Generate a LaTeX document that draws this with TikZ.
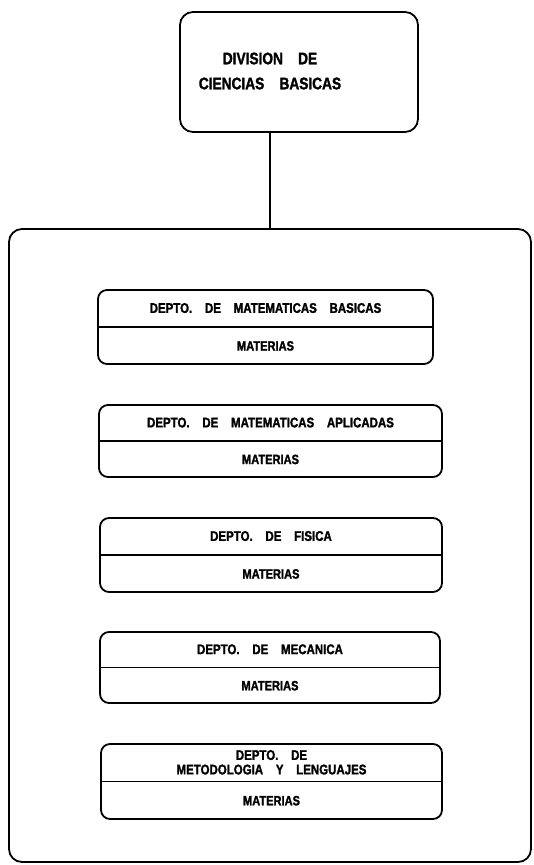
\documentclass[tikz,border=0pt]{standalone}
\usepackage{fontspec}
\setmainfont{Liberation Sans}[FakeStretch=0.82,WordSpace=4,
  BoldFeatures={FakeBold=1.6}]
\usepackage{tikz}
\usetikzlibrary{positioning,calc}
\colorlet{penColor}{black}
\tikzset{
  unitbox/.style={draw=penColor,line width=1.8pt,rounded corners=13pt},
  deptbox/.style={draw=penColor,line width=1.8pt,rounded corners=9pt},
  divider/.style={draw=penColor,line width=1.6pt},
  boxtext/.style={inner sep=0pt,align=center,
    font=\bfseries\fontsize{14}{14}\selectfont},
  mattext/.style={boxtext,font=\bfseries\fontsize{13.5}{13.5}\selectfont}
}

\begin{document}
\begin{tikzpicture}[x=1pt,y=-1pt]
    \useasboundingbox (0,0) rectangle (533,865);

    % division
    \node[unitbox,minimum width=238pt,minimum height=120pt] (division) at (299,72) {};
    \node[boxtext,font=\bfseries\fontsize{16.7}{25}\selectfont] (divisiontext) at (270,71)
      {DIVISION DE\\CIENCIAS BASICAS};

    % departamentos
    \node[unitbox,minimum width=522pt,minimum height=633pt] (frame) at (270,545.5) {};
    \coordinate (link) at (division.south -| frame.north);
    \draw[divider,line width=1.8pt] (link) -- (frame.north);

    \node[deptbox,minimum width=335pt,minimum height=74pt] (basicas) at (265.5,327) {};
    \draw[divider] (basicas.west) -- (basicas.east);
    \node[boxtext] (basicashead) at ($(basicas.north)!.25!(basicas.south)$)
      {DEPTO. DE MATEMATICAS BASICAS};
    \node[mattext] (basicasmat) at ($(basicas.north)!.75!(basicas.south)$) {MATERIAS};

    \node[deptbox,minimum width=343pt,minimum height=72pt] (aplicadas) at (270.5,441) {};
    \draw[divider] (aplicadas.west) -- (aplicadas.east);
    \node[boxtext] (aplicadashead) at ($(aplicadas.north)!.25!(aplicadas.south)$)
      {DEPTO. DE MATEMATICAS APLICADAS};
    \node[mattext] (aplicadasmat) at ($(aplicadas.north)!.75!(aplicadas.south)$) {MATERIAS};

    \node[deptbox,minimum width=342pt,minimum height=74pt] (fisica) at (271,555) {};
    \draw[divider] (fisica.west) -- (fisica.east);
    \node[boxtext] (fisicahead) at ($(fisica.north)!.25!(fisica.south)$)
      {DEPTO. DE FISICA};
    \node[mattext] (fisicamat) at ($(fisica.north)!.75!(fisica.south)$) {MATERIAS};

    \node[deptbox,minimum width=340pt,minimum height=71pt] (mecanica) at (270,667.5) {};
    \draw[divider] (mecanica.west) -- (mecanica.east);
    \node[boxtext] (mecanicahead) at ($(mecanica.north)!.25!(mecanica.south)$)
      {DEPTO. DE MECANICA};
    \node[mattext] (mecanicamat) at ($(mecanica.north)!.75!(mecanica.south)$) {MATERIAS};

    \node[deptbox,minimum width=341pt,minimum height=75pt] (metodologia) at (271.5,781.5) {};
    \draw[divider] (metodologia.west) -- (metodologia.east);
    \node[boxtext,font=\bfseries\fontsize{14}{14.5}\selectfont] (metodologiahead)
      at ($(metodologia.north)!.25!(metodologia.south)$)
      {DEPTO. DE\\METODOLOGIA Y LENGUAJES};
    \node[mattext] (metodologiamat) at ($(metodologia.north)!.75!(metodologia.south)$) {MATERIAS};

\end{tikzpicture}
\end{document}
